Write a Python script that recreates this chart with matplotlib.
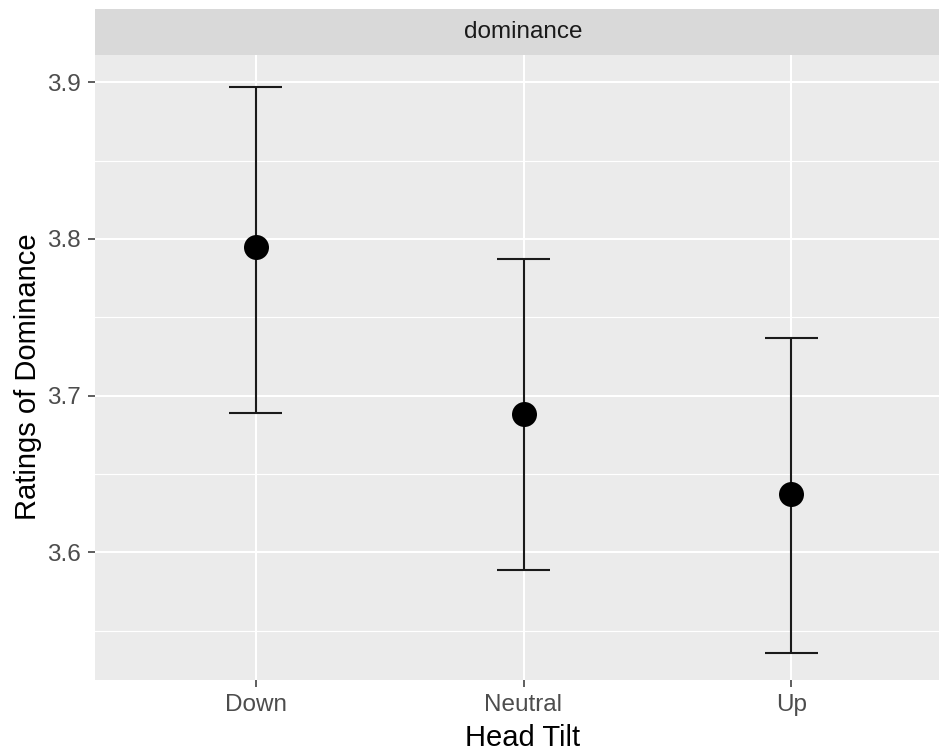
import matplotlib.pyplot as plt

tilt = ["Down", "Neutral", "Up"]
mean_rating = [3.795, 3.6885, 3.637]
ci_low = [3.689, 3.5885, 3.5355]
ci_high = [3.897, 3.787, 3.737]

plt.rcParams["font.family"] = ["Liberation Sans", "DejaVu Sans"]

W, H = 939, 756
fig = plt.figure(figsize=(W / 100, H / 100), dpi=100)

# panel and facet strip, in pixels (the panel runs past the right edge)
left, right, top, bottom, strip_top = 95, 952, 55, 680, 9
ax = fig.add_axes([left / W, 1 - bottom / H, (right - left) / W, (bottom - top) / H])
strip = fig.add_axes([left / W, 1 - top / H, (right - left) / W, (top - strip_top) / H])

ax.set_facecolor("#EBEBEB")
for s in ax.spines.values():
    s.set_visible(False)

x = list(range(1, len(tilt) + 1))

# error bars with caps 0.2 wide, then the means
ax.vlines(x, ci_low, ci_high, color="#1a1a1a", lw=1.5, zorder=3)
for xi, lo, hi in zip(x, ci_low, ci_high):
    ax.hlines([lo, hi], xi - 0.1, xi + 0.1, color="#1a1a1a", lw=1.5, zorder=3)
ax.plot(x, mean_rating, "o", color="black", ms=18, mew=0, zorder=4)

ax.set_xlim(0.4, 3.6)
ax.set_ylim(3.5185, 3.9174)
ax.set_xticks(x)
ax.set_xticklabels(tilt)
ax.set_yticks([3.6, 3.7, 3.8, 3.9])
ax.set_yticklabels(["3.6", "3.7", "3.8", "3.9"])
ax.set_yticks([3.55, 3.65, 3.75, 3.85], minor=True)

ax.set_axisbelow(True)
ax.grid(which="major", color="white", lw=1.5)
ax.grid(which="minor", axis="y", color="white", lw=0.8)
ax.tick_params(which="major", length=5, width=1.1, color="#333333",
               labelcolor="#4D4D4D", labelsize=17.5, pad=5)
ax.tick_params(which="minor", length=0)

ax.set_xlabel("Head Tilt", fontsize=21, color="black")
ax.set_ylabel("Ratings of Dominance", fontsize=21, color="black")
ax.xaxis.set_label_coords((523 - left) / (right - left), -0.071)
ax.yaxis.set_label_coords((42 - left) / (right - left), 0.486)

strip.set_facecolor("#D9D9D9")
strip.set_xticks([])
strip.set_yticks([])
for s in strip.spines.values():
    s.set_visible(False)
strip.text((523 - left) / (right - left), 0.5, "dominance", ha="center", va="center",
           fontsize=17.5, color="#1A1A1A", transform=strip.transAxes)

fig.savefig("out.png", dpi=100)
